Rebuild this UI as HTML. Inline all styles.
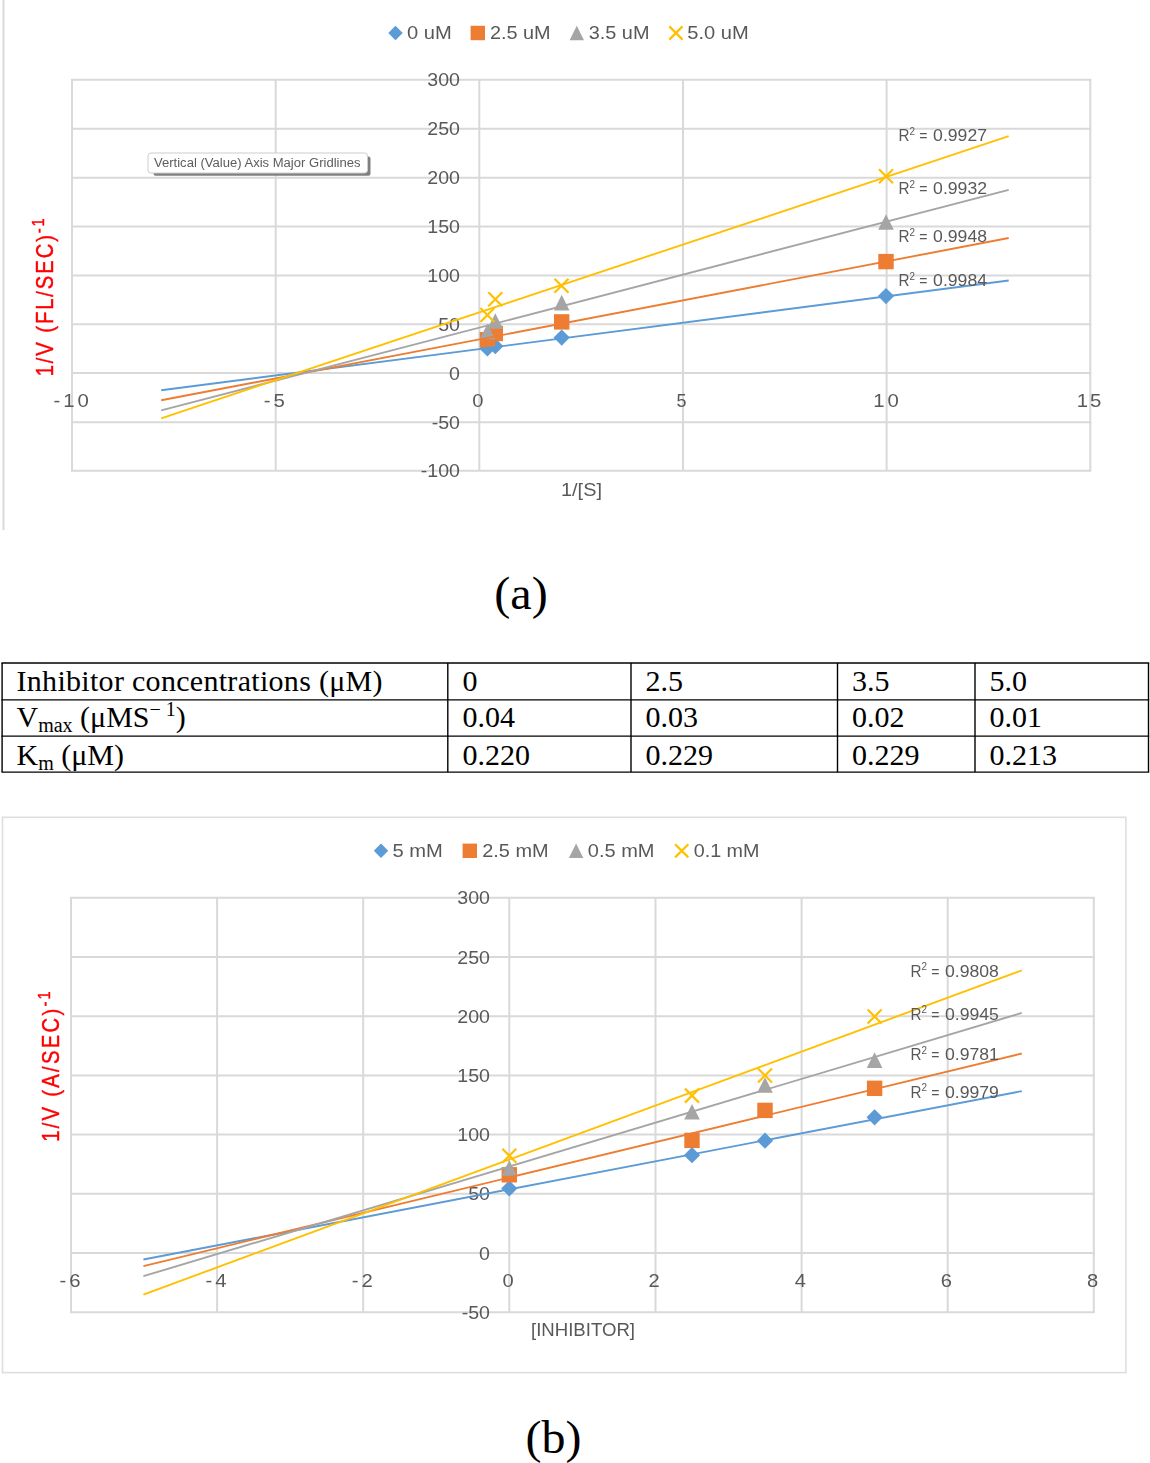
<!DOCTYPE html>
<html><head><meta charset="utf-8"><title>Figure</title>
<style>
html,body{margin:0;padding:0;background:#fff;}
body{width:1150px;height:1463px;overflow:hidden;font-family:"Liberation Sans", sans-serif;}
svg{display:block;position:absolute;left:0;top:0;}
</style></head><body>
<svg width="1150" height="1463" viewBox="0 0 1150 1463">
<rect x="0" y="0" width="1150" height="1463" fill="#fff"/>
<defs><filter id="soft" x="0" y="0" width="1150" height="1463" filterUnits="userSpaceOnUse"><feGaussianBlur stdDeviation="0.55"/></filter></defs>
<g id="charts" filter="url(#soft)">
<!-- chart 1 -->
<line x1="3.5" y1="0.0" x2="3.5" y2="530.0" stroke="#d9d9d9" stroke-width="2"/>
<line x1="71.0" y1="79.8" x2="1091.3" y2="79.8" stroke="#d9d9d9" stroke-width="2"/>
<line x1="71.0" y1="128.7" x2="1091.3" y2="128.7" stroke="#d9d9d9" stroke-width="2"/>
<line x1="71.0" y1="177.7" x2="1091.3" y2="177.7" stroke="#d9d9d9" stroke-width="2"/>
<line x1="71.0" y1="226.6" x2="1091.3" y2="226.6" stroke="#d9d9d9" stroke-width="2"/>
<line x1="71.0" y1="275.5" x2="1091.3" y2="275.5" stroke="#d9d9d9" stroke-width="2"/>
<line x1="71.0" y1="324.3" x2="1091.3" y2="324.3" stroke="#d9d9d9" stroke-width="2"/>
<line x1="71.0" y1="373.1" x2="1091.3" y2="373.1" stroke="#d9d9d9" stroke-width="2"/>
<line x1="71.0" y1="422.3" x2="1091.3" y2="422.3" stroke="#d9d9d9" stroke-width="2"/>
<line x1="71.0" y1="470.8" x2="1091.3" y2="470.8" stroke="#d9d9d9" stroke-width="2"/>
<line x1="72.0" y1="79.8" x2="72.0" y2="470.8" stroke="#d9d9d9" stroke-width="2"/>
<line x1="275.7" y1="79.8" x2="275.7" y2="470.8" stroke="#d9d9d9" stroke-width="2"/>
<line x1="479.3" y1="79.8" x2="479.3" y2="470.8" stroke="#d9d9d9" stroke-width="2"/>
<line x1="683.0" y1="79.8" x2="683.0" y2="470.8" stroke="#d9d9d9" stroke-width="2"/>
<line x1="886.6" y1="79.8" x2="886.6" y2="470.8" stroke="#d9d9d9" stroke-width="2"/>
<line x1="1090.3" y1="79.8" x2="1090.3" y2="470.8" stroke="#d9d9d9" stroke-width="2"/>
<text x="427.3" y="86.4" font-size="18.5" fill="#595959" text-anchor="start" style='font-family:"Liberation Sans", sans-serif' textLength="32.7" lengthAdjust="spacingAndGlyphs">300</text>
<text x="427.3" y="135.3" font-size="18.5" fill="#595959" text-anchor="start" style='font-family:"Liberation Sans", sans-serif' textLength="32.7" lengthAdjust="spacingAndGlyphs">250</text>
<text x="427.3" y="184.3" font-size="18.5" fill="#595959" text-anchor="start" style='font-family:"Liberation Sans", sans-serif' textLength="32.7" lengthAdjust="spacingAndGlyphs">200</text>
<text x="427.3" y="233.2" font-size="18.5" fill="#595959" text-anchor="start" style='font-family:"Liberation Sans", sans-serif' textLength="32.7" lengthAdjust="spacingAndGlyphs">150</text>
<text x="427.3" y="282.1" font-size="18.5" fill="#595959" text-anchor="start" style='font-family:"Liberation Sans", sans-serif' textLength="32.7" lengthAdjust="spacingAndGlyphs">100</text>
<text x="438.2" y="330.9" font-size="18.5" fill="#595959" text-anchor="start" style='font-family:"Liberation Sans", sans-serif' textLength="21.8" lengthAdjust="spacingAndGlyphs">50</text>
<text x="449.1" y="379.7" font-size="18.5" fill="#595959" text-anchor="start" style='font-family:"Liberation Sans", sans-serif' textLength="10.9" lengthAdjust="spacingAndGlyphs">0</text>
<text x="431.7" y="428.9" font-size="18.5" fill="#595959" text-anchor="start" style='font-family:"Liberation Sans", sans-serif' textLength="28.3" lengthAdjust="spacingAndGlyphs">-50</text>
<text x="420.8" y="477.4" font-size="18.5" fill="#595959" text-anchor="start" style='font-family:"Liberation Sans", sans-serif' textLength="39.2" lengthAdjust="spacingAndGlyphs">-100</text>
<g transform="translate(53.5,407) scale(1.1,1)"><text x="0.0" y="0.0" font-size="18.5" fill="#595959" text-anchor="start" style='font-family:"Liberation Sans", sans-serif' textLength="32.2" lengthAdjust="spacing">-10</text></g>
<g transform="translate(263.8,407) scale(1.1,1)"><text x="0.0" y="0.0" font-size="18.5" fill="#595959" text-anchor="start" style='font-family:"Liberation Sans", sans-serif' textLength="19.0" lengthAdjust="spacing">-5</text></g>
<text x="472.3" y="407.0" font-size="18.5" fill="#595959" text-anchor="start" style='font-family:"Liberation Sans", sans-serif' textLength="11.2" lengthAdjust="spacingAndGlyphs">0</text>
<text x="676.5" y="407.0" font-size="18.5" fill="#595959" text-anchor="start" style='font-family:"Liberation Sans", sans-serif' textLength="10.0" lengthAdjust="spacingAndGlyphs">5</text>
<g transform="translate(873.2,407) scale(1.1,1)"><text x="0.0" y="0.0" font-size="18.5" fill="#595959" text-anchor="start" style='font-family:"Liberation Sans", sans-serif' textLength="23.4" lengthAdjust="spacing">10</text></g>
<g transform="translate(1076.7,407) scale(1.1,1)"><text x="0.0" y="0.0" font-size="18.5" fill="#595959" text-anchor="start" style='font-family:"Liberation Sans", sans-serif' textLength="22.5" lengthAdjust="spacing">15</text></g>
<path d="M479.3 348.5L487.4 340.4L495.5 348.5L487.4 356.6Z" fill="#5b9bd5"/>
<path d="M487.2 346.2L495.3 338.1L503.4 346.2L495.3 354.3Z" fill="#5b9bd5"/>
<path d="M553.6 337.6L561.7 329.5L569.8 337.6L561.7 345.7Z" fill="#5b9bd5"/>
<path d="M877.9 296.1L886.0 288.0L894.1 296.1L886.0 304.2Z" fill="#5b9bd5"/>
<rect x="479.7" y="332.0" width="15.4" height="15.4" fill="#ed7d31"/>
<rect x="487.6" y="325.8" width="15.4" height="15.4" fill="#ed7d31"/>
<rect x="554.0" y="314.2" width="15.4" height="15.4" fill="#ed7d31"/>
<rect x="878.3" y="253.9" width="15.4" height="15.4" fill="#ed7d31"/>
<path d="M487.4 323.7L495.2 339.3L479.6 339.3Z" fill="#a5a5a5"/>
<path d="M495.3 313.2L503.1 328.8L487.5 328.8Z" fill="#a5a5a5"/>
<path d="M561.7 294.8L569.5 310.4L553.9 310.4Z" fill="#a5a5a5"/>
<path d="M886.0 214.2L893.8 229.8L878.2 229.8Z" fill="#a5a5a5"/>
<path d="M480.4 308.0L494.4 322.0M494.4 308.0L480.4 322.0" stroke="#ffc000" stroke-width="2.2" fill="none"/>
<path d="M488.3 292.2L502.3 306.2M502.3 292.2L488.3 306.2" stroke="#ffc000" stroke-width="2.2" fill="none"/>
<path d="M554.5 278.8L568.5 292.8M568.5 278.8L554.5 292.8" stroke="#ffc000" stroke-width="2.2" fill="none"/>
<path d="M879.0 169.3L893.0 183.3M893.0 169.3L879.0 183.3" stroke="#ffc000" stroke-width="2.2" fill="none"/>
<line x1="161.2" y1="390.3" x2="1008.7" y2="280.5" stroke="#5b9bd5" stroke-width="1.9"/>
<line x1="161.2" y1="400.3" x2="1008.7" y2="238.0" stroke="#ed7d31" stroke-width="1.9"/>
<line x1="161.2" y1="410.4" x2="1008.7" y2="189.9" stroke="#a5a5a5" stroke-width="1.9"/>
<line x1="161.2" y1="418.3" x2="1008.7" y2="136.1" stroke="#ffc000" stroke-width="1.9"/>
<text x="898.5" y="141.1" font-size="17" fill="#595959" text-anchor="start" style='font-family:"Liberation Sans", sans-serif' textLength="16.5" lengthAdjust="spacingAndGlyphs">R<tspan font-size="11" dy="-6.5">2</tspan></text>
<text x="919.3" y="141.1" font-size="17" fill="#595959" text-anchor="start" style='font-family:"Liberation Sans", sans-serif' textLength="8.2" lengthAdjust="spacingAndGlyphs">=</text>
<text x="933.1" y="141.1" font-size="17" fill="#595959" text-anchor="start" style='font-family:"Liberation Sans", sans-serif' textLength="53.9" lengthAdjust="spacingAndGlyphs">0.9927</text>
<text x="898.5" y="194.2" font-size="17" fill="#595959" text-anchor="start" style='font-family:"Liberation Sans", sans-serif' textLength="16.5" lengthAdjust="spacingAndGlyphs">R<tspan font-size="11" dy="-6.5">2</tspan></text>
<text x="919.3" y="194.2" font-size="17" fill="#595959" text-anchor="start" style='font-family:"Liberation Sans", sans-serif' textLength="8.2" lengthAdjust="spacingAndGlyphs">=</text>
<text x="933.1" y="194.2" font-size="17" fill="#595959" text-anchor="start" style='font-family:"Liberation Sans", sans-serif' textLength="53.9" lengthAdjust="spacingAndGlyphs">0.9932</text>
<text x="898.5" y="242.3" font-size="17" fill="#595959" text-anchor="start" style='font-family:"Liberation Sans", sans-serif' textLength="16.5" lengthAdjust="spacingAndGlyphs">R<tspan font-size="11" dy="-6.5">2</tspan></text>
<text x="919.3" y="242.3" font-size="17" fill="#595959" text-anchor="start" style='font-family:"Liberation Sans", sans-serif' textLength="8.2" lengthAdjust="spacingAndGlyphs">=</text>
<text x="933.1" y="242.3" font-size="17" fill="#595959" text-anchor="start" style='font-family:"Liberation Sans", sans-serif' textLength="53.9" lengthAdjust="spacingAndGlyphs">0.9948</text>
<text x="898.5" y="286.1" font-size="17" fill="#595959" text-anchor="start" style='font-family:"Liberation Sans", sans-serif' textLength="16.5" lengthAdjust="spacingAndGlyphs">R<tspan font-size="11" dy="-6.5">2</tspan></text>
<text x="919.3" y="286.1" font-size="17" fill="#595959" text-anchor="start" style='font-family:"Liberation Sans", sans-serif' textLength="8.2" lengthAdjust="spacingAndGlyphs">=</text>
<text x="933.1" y="286.1" font-size="17" fill="#595959" text-anchor="start" style='font-family:"Liberation Sans", sans-serif' textLength="53.9" lengthAdjust="spacingAndGlyphs">0.9984</text>
<path d="M388.3 33.0L395.5 25.8L402.7 33.0L395.5 40.2Z" fill="#5b9bd5"/>
<text x="407.0" y="39.3" font-size="18.5" fill="#595959" text-anchor="start" style='font-family:"Liberation Sans", sans-serif' textLength="44.8" lengthAdjust="spacingAndGlyphs">0 uM</text>
<rect x="470.6" y="25.8" width="14.4" height="14.4" fill="#ed7d31"/>
<text x="489.9" y="39.3" font-size="18.5" fill="#595959" text-anchor="start" style='font-family:"Liberation Sans", sans-serif' textLength="60.7" lengthAdjust="spacingAndGlyphs">2.5 uM</text>
<path d="M576.8 25.8L584.0 40.2L569.6 40.2Z" fill="#a5a5a5"/>
<text x="588.7" y="39.3" font-size="18.5" fill="#595959" text-anchor="start" style='font-family:"Liberation Sans", sans-serif' textLength="60.8" lengthAdjust="spacingAndGlyphs">3.5 uM</text>
<path d="M669.3 26.4L682.5 39.6M682.5 26.4L669.3 39.6" stroke="#ffc000" stroke-width="2.2" fill="none"/>
<text x="687.3" y="39.3" font-size="18.5" fill="#595959" text-anchor="start" style='font-family:"Liberation Sans", sans-serif' textLength="61.5" lengthAdjust="spacingAndGlyphs">5.0 uM</text>
<text x="561.0" y="496.0" font-size="18.5" fill="#595959" text-anchor="start" style='font-family:"Liberation Sans", sans-serif' textLength="41.0" lengthAdjust="spacingAndGlyphs">1/[S]</text>
<g transform="translate(53,376.3) rotate(-90) scale(0.86,1)"><text x="0.0" y="0.0" font-size="23.5" fill="#ff0000" text-anchor="start" style='font-family:"Liberation Sans", sans-serif' textLength="183.7" lengthAdjust="spacing" stroke="#ff0000" stroke-width="0.45">1/V (FL/SEC)<tspan font-size="17" dy="-8.6">-1</tspan></text></g>
<rect x="153.5" y="156.5" width="217" height="19.2" rx="2" fill="#808080"/>
<rect x="148" y="153" width="219.5" height="20" rx="3" fill="#fff" stroke="#cdcdcd" stroke-width="1"/>
<text x="154.0" y="166.8" font-size="12" fill="#5c5c5c" text-anchor="start" style='font-family:"Liberation Sans", sans-serif' textLength="206.5" lengthAdjust="spacingAndGlyphs">Vertical (Value) Axis Major Gridlines</text>
<!-- chart 2 -->
<rect x="2.5" y="817.3" width="1123.4" height="555.3" fill="none" stroke="#dedede" stroke-width="1.6"/>
<line x1="70.0" y1="897.8" x2="1094.8" y2="897.8" stroke="#d9d9d9" stroke-width="2"/>
<line x1="70.0" y1="957.0" x2="1094.8" y2="957.0" stroke="#d9d9d9" stroke-width="2"/>
<line x1="70.0" y1="1016.2" x2="1094.8" y2="1016.2" stroke="#d9d9d9" stroke-width="2"/>
<line x1="70.0" y1="1075.4" x2="1094.8" y2="1075.4" stroke="#d9d9d9" stroke-width="2"/>
<line x1="70.0" y1="1134.6" x2="1094.8" y2="1134.6" stroke="#d9d9d9" stroke-width="2"/>
<line x1="70.0" y1="1193.8" x2="1094.8" y2="1193.8" stroke="#d9d9d9" stroke-width="2"/>
<line x1="70.0" y1="1253.0" x2="1094.8" y2="1253.0" stroke="#d9d9d9" stroke-width="2"/>
<line x1="70.0" y1="1312.2" x2="1094.8" y2="1312.2" stroke="#d9d9d9" stroke-width="2"/>
<line x1="71.0" y1="897.8" x2="71.0" y2="1312.2" stroke="#d9d9d9" stroke-width="2"/>
<line x1="217.1" y1="897.8" x2="217.1" y2="1312.2" stroke="#d9d9d9" stroke-width="2"/>
<line x1="363.2" y1="897.8" x2="363.2" y2="1312.2" stroke="#d9d9d9" stroke-width="2"/>
<line x1="509.3" y1="897.8" x2="509.3" y2="1312.2" stroke="#d9d9d9" stroke-width="2"/>
<line x1="655.5" y1="897.8" x2="655.5" y2="1312.2" stroke="#d9d9d9" stroke-width="2"/>
<line x1="801.6" y1="897.8" x2="801.6" y2="1312.2" stroke="#d9d9d9" stroke-width="2"/>
<line x1="947.7" y1="897.8" x2="947.7" y2="1312.2" stroke="#d9d9d9" stroke-width="2"/>
<line x1="1093.8" y1="897.8" x2="1093.8" y2="1312.2" stroke="#d9d9d9" stroke-width="2"/>
<text x="457.3" y="904.4" font-size="18.5" fill="#595959" text-anchor="start" style='font-family:"Liberation Sans", sans-serif' textLength="32.7" lengthAdjust="spacingAndGlyphs">300</text>
<text x="457.3" y="963.6" font-size="18.5" fill="#595959" text-anchor="start" style='font-family:"Liberation Sans", sans-serif' textLength="32.7" lengthAdjust="spacingAndGlyphs">250</text>
<text x="457.3" y="1022.8" font-size="18.5" fill="#595959" text-anchor="start" style='font-family:"Liberation Sans", sans-serif' textLength="32.7" lengthAdjust="spacingAndGlyphs">200</text>
<text x="457.3" y="1082.0" font-size="18.5" fill="#595959" text-anchor="start" style='font-family:"Liberation Sans", sans-serif' textLength="32.7" lengthAdjust="spacingAndGlyphs">150</text>
<text x="457.3" y="1141.2" font-size="18.5" fill="#595959" text-anchor="start" style='font-family:"Liberation Sans", sans-serif' textLength="32.7" lengthAdjust="spacingAndGlyphs">100</text>
<text x="468.2" y="1200.4" font-size="18.5" fill="#595959" text-anchor="start" style='font-family:"Liberation Sans", sans-serif' textLength="21.8" lengthAdjust="spacingAndGlyphs">50</text>
<text x="479.1" y="1259.6" font-size="18.5" fill="#595959" text-anchor="start" style='font-family:"Liberation Sans", sans-serif' textLength="10.9" lengthAdjust="spacingAndGlyphs">0</text>
<text x="461.7" y="1318.8" font-size="18.5" fill="#595959" text-anchor="start" style='font-family:"Liberation Sans", sans-serif' textLength="28.3" lengthAdjust="spacingAndGlyphs">-50</text>
<g transform="translate(59.5,1287.3) scale(1.1,1)"><text x="0.0" y="0.0" font-size="18.5" fill="#595959" text-anchor="start" style='font-family:"Liberation Sans", sans-serif' textLength="19.1" lengthAdjust="spacing">-6</text></g>
<g transform="translate(205.6,1287.3) scale(1.1,1)"><text x="0.0" y="0.0" font-size="18.5" fill="#595959" text-anchor="start" style='font-family:"Liberation Sans", sans-serif' textLength="19.1" lengthAdjust="spacing">-4</text></g>
<g transform="translate(351.7,1287.3) scale(1.1,1)"><text x="0.0" y="0.0" font-size="18.5" fill="#595959" text-anchor="start" style='font-family:"Liberation Sans", sans-serif' textLength="19.1" lengthAdjust="spacing">-2</text></g>
<text x="502.4" y="1287.3" font-size="18.5" fill="#595959" text-anchor="start" style='font-family:"Liberation Sans", sans-serif' textLength="11.2" lengthAdjust="spacingAndGlyphs">0</text>
<text x="648.6" y="1287.3" font-size="18.5" fill="#595959" text-anchor="start" style='font-family:"Liberation Sans", sans-serif' textLength="11.2" lengthAdjust="spacingAndGlyphs">2</text>
<text x="794.7" y="1287.3" font-size="18.5" fill="#595959" text-anchor="start" style='font-family:"Liberation Sans", sans-serif' textLength="11.2" lengthAdjust="spacingAndGlyphs">4</text>
<text x="940.8" y="1287.3" font-size="18.5" fill="#595959" text-anchor="start" style='font-family:"Liberation Sans", sans-serif' textLength="11.2" lengthAdjust="spacingAndGlyphs">6</text>
<text x="1086.9" y="1287.3" font-size="18.5" fill="#595959" text-anchor="start" style='font-family:"Liberation Sans", sans-serif' textLength="11.2" lengthAdjust="spacingAndGlyphs">8</text>
<path d="M501.2 1188.4L509.3 1180.3L517.4 1188.4L509.3 1196.5Z" fill="#5b9bd5"/>
<path d="M683.9 1155.2L692.0 1147.1L700.1 1155.2L692.0 1163.3Z" fill="#5b9bd5"/>
<path d="M756.9 1140.7L765.0 1132.6L773.1 1140.7L765.0 1148.8Z" fill="#5b9bd5"/>
<path d="M866.5 1117.3L874.6 1109.2L882.7 1117.3L874.6 1125.4Z" fill="#5b9bd5"/>
<rect x="501.6" y="1167.1" width="15.4" height="15.4" fill="#ed7d31"/>
<rect x="684.3" y="1132.7" width="15.4" height="15.4" fill="#ed7d31"/>
<rect x="757.3" y="1102.7" width="15.4" height="15.4" fill="#ed7d31"/>
<rect x="866.9" y="1080.6" width="15.4" height="15.4" fill="#ed7d31"/>
<path d="M509.3 1160.2L517.1 1175.8L501.5 1175.8Z" fill="#a5a5a5"/>
<path d="M692.0 1104.0L699.8 1119.6L684.2 1119.6Z" fill="#a5a5a5"/>
<path d="M765.0 1077.2L772.8 1092.8L757.2 1092.8Z" fill="#a5a5a5"/>
<path d="M874.6 1052.3L882.4 1067.9L866.8 1067.9Z" fill="#a5a5a5"/>
<path d="M502.3 1148.7L516.3 1162.7M516.3 1148.7L502.3 1162.7" stroke="#ffc000" stroke-width="2.2" fill="none"/>
<path d="M685.0 1088.6L699.0 1102.6M699.0 1088.6L685.0 1102.6" stroke="#ffc000" stroke-width="2.2" fill="none"/>
<path d="M758.0 1068.5L772.0 1082.5M772.0 1068.5L758.0 1082.5" stroke="#ffc000" stroke-width="2.2" fill="none"/>
<path d="M867.6 1009.5L881.6 1023.5M881.6 1009.5L867.6 1023.5" stroke="#ffc000" stroke-width="2.2" fill="none"/>
<line x1="143.4" y1="1259.5" x2="1021.8" y2="1091.1" stroke="#5b9bd5" stroke-width="1.9"/>
<line x1="143.4" y1="1266.1" x2="1021.8" y2="1053.5" stroke="#ed7d31" stroke-width="1.9"/>
<line x1="143.4" y1="1276.2" x2="1021.8" y2="1012.9" stroke="#a5a5a5" stroke-width="1.9"/>
<line x1="143.4" y1="1294.6" x2="1021.8" y2="970.3" stroke="#ffc000" stroke-width="1.9"/>
<text x="910.4" y="976.7" font-size="17" fill="#595959" text-anchor="start" style='font-family:"Liberation Sans", sans-serif' textLength="16.5" lengthAdjust="spacingAndGlyphs">R<tspan font-size="11" dy="-6.5">2</tspan></text>
<text x="931.2" y="976.7" font-size="17" fill="#595959" text-anchor="start" style='font-family:"Liberation Sans", sans-serif' textLength="8.2" lengthAdjust="spacingAndGlyphs">=</text>
<text x="945.0" y="976.7" font-size="17" fill="#595959" text-anchor="start" style='font-family:"Liberation Sans", sans-serif' textLength="53.9" lengthAdjust="spacingAndGlyphs">0.9808</text>
<text x="910.4" y="1019.5" font-size="17" fill="#595959" text-anchor="start" style='font-family:"Liberation Sans", sans-serif' textLength="16.5" lengthAdjust="spacingAndGlyphs">R<tspan font-size="11" dy="-6.5">2</tspan></text>
<text x="931.2" y="1019.5" font-size="17" fill="#595959" text-anchor="start" style='font-family:"Liberation Sans", sans-serif' textLength="8.2" lengthAdjust="spacingAndGlyphs">=</text>
<text x="945.0" y="1019.5" font-size="17" fill="#595959" text-anchor="start" style='font-family:"Liberation Sans", sans-serif' textLength="53.9" lengthAdjust="spacingAndGlyphs">0.9945</text>
<text x="910.4" y="1060.1" font-size="17" fill="#595959" text-anchor="start" style='font-family:"Liberation Sans", sans-serif' textLength="16.5" lengthAdjust="spacingAndGlyphs">R<tspan font-size="11" dy="-6.5">2</tspan></text>
<text x="931.2" y="1060.1" font-size="17" fill="#595959" text-anchor="start" style='font-family:"Liberation Sans", sans-serif' textLength="8.2" lengthAdjust="spacingAndGlyphs">=</text>
<text x="945.0" y="1060.1" font-size="17" fill="#595959" text-anchor="start" style='font-family:"Liberation Sans", sans-serif' textLength="53.9" lengthAdjust="spacingAndGlyphs">0.9781</text>
<text x="910.4" y="1097.7" font-size="17" fill="#595959" text-anchor="start" style='font-family:"Liberation Sans", sans-serif' textLength="16.5" lengthAdjust="spacingAndGlyphs">R<tspan font-size="11" dy="-6.5">2</tspan></text>
<text x="931.2" y="1097.7" font-size="17" fill="#595959" text-anchor="start" style='font-family:"Liberation Sans", sans-serif' textLength="8.2" lengthAdjust="spacingAndGlyphs">=</text>
<text x="945.0" y="1097.7" font-size="17" fill="#595959" text-anchor="start" style='font-family:"Liberation Sans", sans-serif' textLength="53.9" lengthAdjust="spacingAndGlyphs">0.9979</text>
<path d="M373.8 850.8L381.0 843.6L388.2 850.8L381.0 858.0Z" fill="#5b9bd5"/>
<text x="392.4" y="857.2" font-size="18.5" fill="#595959" text-anchor="start" style='font-family:"Liberation Sans", sans-serif' textLength="50.3" lengthAdjust="spacingAndGlyphs">5 mM</text>
<rect x="462.6" y="843.6" width="14.4" height="14.4" fill="#ed7d31"/>
<text x="482.2" y="857.2" font-size="18.5" fill="#595959" text-anchor="start" style='font-family:"Liberation Sans", sans-serif' textLength="66.4" lengthAdjust="spacingAndGlyphs">2.5 mM</text>
<path d="M576.1 843.6L583.3 858.0L568.9 858.0Z" fill="#a5a5a5"/>
<text x="587.8" y="857.2" font-size="18.5" fill="#595959" text-anchor="start" style='font-family:"Liberation Sans", sans-serif' textLength="66.7" lengthAdjust="spacingAndGlyphs">0.5 mM</text>
<path d="M675.1 844.2L688.3 857.4M688.3 844.2L675.1 857.4" stroke="#ffc000" stroke-width="2.2" fill="none"/>
<text x="693.7" y="857.2" font-size="18.5" fill="#595959" text-anchor="start" style='font-family:"Liberation Sans", sans-serif' textLength="65.8" lengthAdjust="spacingAndGlyphs">0.1 mM</text>
<text x="531.0" y="1335.7" font-size="18.5" fill="#595959" text-anchor="start" style='font-family:"Liberation Sans", sans-serif' textLength="104.0" lengthAdjust="spacingAndGlyphs">[INHIBITOR]</text>
<g transform="translate(59,1141.8) rotate(-90) scale(0.86,1)"><text x="0.0" y="0.0" font-size="23.5" fill="#ff0000" text-anchor="start" style='font-family:"Liberation Sans", sans-serif' textLength="175.0" lengthAdjust="spacing" stroke="#ff0000" stroke-width="0.45">1/V (A/SEC)<tspan font-size="17" dy="-8.6">-1</tspan></text></g>
</g>
<text x="494.3" y="609.0" font-size="47" fill="#000" text-anchor="start" style='font-family:"Liberation Serif", serif' textLength="53.4" lengthAdjust="spacingAndGlyphs">(a)</text>
<text x="525.4" y="1453.4" font-size="47" fill="#000" text-anchor="start" style='font-family:"Liberation Serif", serif' textLength="56.0" lengthAdjust="spacingAndGlyphs">(b)</text>
<!-- table -->
<line x1="1.4" y1="663.0" x2="1149.2" y2="663.0" stroke="#000" stroke-width="1.4"/>
<line x1="1.4" y1="699.9" x2="1149.2" y2="699.9" stroke="#000" stroke-width="1.4"/>
<line x1="1.4" y1="736.1" x2="1149.2" y2="736.1" stroke="#000" stroke-width="1.4"/>
<line x1="1.4" y1="772.1" x2="1149.2" y2="772.1" stroke="#000" stroke-width="1.4"/>
<line x1="2.1" y1="663.0" x2="2.1" y2="772.1" stroke="#000" stroke-width="1.4"/>
<line x1="447.8" y1="663.0" x2="447.8" y2="772.1" stroke="#000" stroke-width="1.4"/>
<line x1="631.0" y1="663.0" x2="631.0" y2="772.1" stroke="#000" stroke-width="1.4"/>
<line x1="837.5" y1="663.0" x2="837.5" y2="772.1" stroke="#000" stroke-width="1.4"/>
<line x1="975.0" y1="663.0" x2="975.0" y2="772.1" stroke="#000" stroke-width="1.4"/>
<line x1="1148.5" y1="663.0" x2="1148.5" y2="772.1" stroke="#000" stroke-width="1.4"/>
<text x="16.5" y="690.8" font-size="30" fill="#000" text-anchor="start" style='font-family:"Liberation Serif", serif' letter-spacing="0.3">Inhibitor concentrations (μM)</text>
<text x="16.5" y="727.2" font-size="30" fill="#000" text-anchor="start" style='font-family:"Liberation Serif", serif'>V<tspan font-size="20" dy="5">max</tspan><tspan dy="-5"> (μMS</tspan><tspan font-size="20" dy="-11">− 1</tspan><tspan dy="11">)</tspan></text>
<text x="16.5" y="764.5" font-size="30" fill="#000" text-anchor="start" style='font-family:"Liberation Serif", serif'>K<tspan font-size="20" dy="5">m</tspan><tspan dy="-5"> (μM)</tspan></text>
<text x="462.5" y="690.8" font-size="30" fill="#000" text-anchor="start" style='font-family:"Liberation Serif", serif'>0</text>
<text x="645.5" y="690.8" font-size="30" fill="#000" text-anchor="start" style='font-family:"Liberation Serif", serif'>2.5</text>
<text x="852.0" y="690.8" font-size="30" fill="#000" text-anchor="start" style='font-family:"Liberation Serif", serif'>3.5</text>
<text x="989.5" y="690.8" font-size="30" fill="#000" text-anchor="start" style='font-family:"Liberation Serif", serif'>5.0</text>
<text x="462.5" y="727.2" font-size="30" fill="#000" text-anchor="start" style='font-family:"Liberation Serif", serif'>0.04</text>
<text x="645.5" y="727.2" font-size="30" fill="#000" text-anchor="start" style='font-family:"Liberation Serif", serif'>0.03</text>
<text x="852.0" y="727.2" font-size="30" fill="#000" text-anchor="start" style='font-family:"Liberation Serif", serif'>0.02</text>
<text x="989.5" y="727.2" font-size="30" fill="#000" text-anchor="start" style='font-family:"Liberation Serif", serif'>0.01</text>
<text x="462.5" y="764.5" font-size="30" fill="#000" text-anchor="start" style='font-family:"Liberation Serif", serif'>0.220</text>
<text x="645.5" y="764.5" font-size="30" fill="#000" text-anchor="start" style='font-family:"Liberation Serif", serif'>0.229</text>
<text x="852.0" y="764.5" font-size="30" fill="#000" text-anchor="start" style='font-family:"Liberation Serif", serif'>0.229</text>
<text x="989.5" y="764.5" font-size="30" fill="#000" text-anchor="start" style='font-family:"Liberation Serif", serif'>0.213</text>
</svg></body></html>
